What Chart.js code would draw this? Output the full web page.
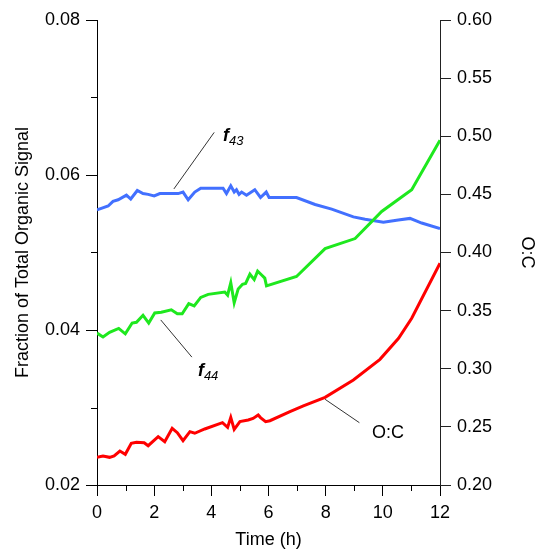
<!DOCTYPE html>
<html lang="en">
<head>
    <meta charset="UTF-8">
    <title>f43 / f44 / O:C</title>
    <style>
        body { margin: 0; background: #fff; }
        #wrap { width: 538px; height: 551px; }
    </style>
</head>
<body>
    <div id="wrap">
        <canvas id="myChart" width="538" height="551"></canvas>
    </div>

    <script src="https://cdn.jsdelivr.net/npm/chart.js"></script>
    <script>
        // f43 (left axis)
        const f43Time = [0, 0.15, 0.39, 0.56, 0.74, 1.03, 1.18, 1.41, 1.61, 1.79, 2.0, 2.2, 2.84, 3.01, 3.19, 3.42, 3.63,
            4.41, 4.53, 4.68, 4.8, 4.88, 4.97, 5.06, 5.23, 5.52, 5.72, 5.92, 6.02, 6.98, 7.63, 8.21, 8.97, 9.38,
            10.02, 10.54, 10.95, 11.36, 12];
        const f43 = [0.0555, 0.0557, 0.0560, 0.0566, 0.0568, 0.0574, 0.0569, 0.0580, 0.0576, 0.0575, 0.0573, 0.0576,
            0.0576, 0.0578, 0.0568, 0.0578, 0.0583, 0.0583, 0.0576, 0.0586, 0.0578, 0.0581, 0.0575, 0.0578, 0.0574,
            0.0581, 0.0571, 0.0578, 0.0571, 0.0571, 0.0562, 0.0556, 0.0546, 0.0543, 0.0539, 0.0542, 0.0544, 0.0538,
            0.0531];

        // f44 (left axis)
        const f44Time = [0, 0.21, 0.44, 0.76, 0.99, 1.23, 1.38, 1.61, 1.81, 2.02, 2.25, 2.6, 2.81, 2.98, 3.21, 3.4,
            3.63, 3.89, 4.47, 4.57, 4.68, 4.8, 4.94, 5.09, 5.2, 5.35, 5.5, 5.62, 5.76, 5.87, 5.93, 6.98, 7.98, 9.03,
            9.96, 11.01, 12];
        const f44 = [0.0396, 0.0391, 0.0397, 0.0402, 0.0395, 0.0409, 0.0410, 0.0419, 0.0409, 0.0422, 0.0423, 0.0426,
            0.0421, 0.0421, 0.0434, 0.0431, 0.0442, 0.0446, 0.0449, 0.0445, 0.0461, 0.0435, 0.0453, 0.0459, 0.0460,
            0.0472, 0.0465, 0.0476, 0.0471, 0.0467, 0.0457, 0.0469, 0.0505, 0.0518, 0.0553, 0.0581, 0.0645];

        // O:C (right axis)
        const ocTime = [0, 0.21, 0.44, 0.6, 0.8, 0.99, 1.2, 1.38, 1.65, 1.79, 2.14, 2.37, 2.63, 2.81, 3.01, 3.25, 3.42,
            3.77, 4.39, 4.57, 4.68, 4.8, 5.0, 5.29, 5.46, 5.64, 5.72, 5.9, 6.05, 6.75, 7.22, 7.98, 8.97, 9.9, 10.55,
            11.01, 12];
        const oc = [0.2238, 0.2249, 0.2238, 0.2250, 0.2292, 0.2264, 0.2359, 0.2367, 0.2364, 0.2338, 0.2416, 0.2372,
            0.2488, 0.2450, 0.2381, 0.2459, 0.2445, 0.2482, 0.2536, 0.2496, 0.2582, 0.2479, 0.2545, 0.2559, 0.2573,
            0.2602, 0.2580, 0.2545, 0.2553, 0.2631, 0.2680, 0.2754, 0.2903, 0.3081, 0.3262, 0.3434, 0.3907];

        // minor tick positions
        const xMinorTicks = [1, 3, 5, 7, 9, 11];
        const yMinorTicks = [0.03, 0.05, 0.07];

        // series labels with leader lines, in data units
        const callouts = [
            { axis: 'y', from: [2.69, 0.0582], to: [4.10, 0.0655], at: [4.41, 0.0644], main: 'f', sub: '43' },
            { axis: 'y', from: [2.23, 0.0413], to: [3.32, 0.0365], at: [3.53, 0.0341], main: 'f', sub: '44' },
            { axis: 'y1', from: [7.98, 0.2737], to: [9.18, 0.2536], at: [9.62, 0.2447], main: 'O:C', sub: '' }
        ];

        const FONT = '"Liberation Sans", Arial, sans-serif';
        const pts = (xs, ys) => xs.map((x, i) => ({ x: x, y: ys[i] }));

        const minorTicks = {
            id: 'minorTicks',
            afterDraw(chart) {
                const c = chart.ctx;
                const xs = chart.scales.x, ys = chart.scales.y;
                const area = chart.chartArea;
                c.save();
                c.strokeStyle = '#000';
                c.lineWidth = 1;
                c.beginPath();
                xMinorTicks.forEach(v => {
                    const px = Math.round(xs.getPixelForValue(v)) + 0.5;
                    c.moveTo(px, area.bottom);
                    c.lineTo(px, area.bottom + 6);
                });
                yMinorTicks.forEach(v => {
                    const py = Math.round(ys.getPixelForValue(v)) + 0.5;
                    c.moveTo(area.left - 6, py);
                    c.lineTo(area.left, py);
                });
                c.stroke();
                c.restore();
            }
        };

        const labelsPlugin = {
            id: 'callouts',
            afterDatasetsDraw(chart) {
                const c = chart.ctx;
                const xs = chart.scales.x;
                c.save();
                callouts.forEach(a => {
                    const ys = chart.scales[a.axis];
                    c.strokeStyle = '#333';
                    c.lineWidth = 1;
                    c.beginPath();
                    c.moveTo(xs.getPixelForValue(a.from[0]), ys.getPixelForValue(a.from[1]));
                    c.lineTo(xs.getPixelForValue(a.to[0]), ys.getPixelForValue(a.to[1]));
                    c.stroke();

                    const px = xs.getPixelForValue(a.at[0]);
                    const py = ys.getPixelForValue(a.at[1]);
                    c.fillStyle = '#000';
                    if (a.sub) {
                        c.textBaseline = 'alphabetic';
                        c.font = 'italic bold 18px ' + FONT;
                        c.fillText(a.main, px, py);
                        const w = c.measureText(a.main).width;
                        c.font = 'italic 13px ' + FONT;
                        c.fillText(a.sub, px + w, py + 4);
                    } else {
                        c.textBaseline = 'middle';
                        c.font = '18px ' + FONT;
                        c.fillText(a.main, px, py);
                    }
                });
                c.restore();
            }
        };

        const tickFont = { family: FONT, size: 18 };

        const ctx = document.getElementById('myChart');
        const chart = new Chart(ctx, {
            type: 'line',
            data: {
                datasets: [
                    { label: 'f44', data: pts(f44Time, f44), yAxisID: 'y', borderColor: '#1ee81e' },
                    { label: 'f43', data: pts(f43Time, f43), yAxisID: 'y', borderColor: '#4270ff' },
                    { label: 'O:C', data: pts(ocTime, oc), yAxisID: 'y1', borderColor: '#ff0000' }
                ]
            },
            plugins: [minorTicks, labelsPlugin],
            options: {
                responsive: false,
                animation: false,
                devicePixelRatio: 1,
                layout: { padding: { top: 20, left: 0, right: 0, bottom: 0 } },
                elements: {
                    line: { borderWidth: 3, tension: 0, fill: false },
                    point: { radius: 0 }
                },
                plugins: {
                    legend: { display: false },
                    tooltip: { enabled: false }
                },
                scales: {
                    x: {
                        type: 'linear',
                        min: 0,
                        max: 12,
                        afterFit(s) { s.height = 66; },
                        border: { display: true, color: '#000' },
                        grid: { drawOnChartArea: false, drawTicks: true, tickLength: 11, color: '#000' },
                        ticks: { stepSize: 2, color: '#000', font: tickFont, padding: 6, maxRotation: 0 },
                        title: { display: true, text: 'Time (h)', color: '#000', font: tickFont, padding: { top: 0, bottom: 0 } }
                    },
                    y: {
                        position: 'left',
                        min: 0.02,
                        max: 0.08,
                        afterFit(s) { s.width = 97; },
                        border: { display: true, color: '#000' },
                        grid: { drawOnChartArea: false, drawTicks: true, tickLength: 11, color: '#000' },
                        ticks: { stepSize: 0.02, color: '#000', font: tickFont, padding: 6,
                            callback: v => v.toFixed(2) },
                        title: { display: true, text: 'Fraction of Total Organic Signal', color: '#000', font: tickFont,
                            padding: { top: 12, bottom: 0 } }
                    },
                    y1: {
                        position: 'right',
                        min: 0.20,
                        max: 0.60,
                        afterFit(s) { s.width = 98; },
                        border: { display: true, color: '#222' },
                        grid: { drawOnChartArea: false, drawTicks: true, tickLength: 11, color: '#222' },
                        ticks: { stepSize: 0.05, color: '#000', font: tickFont, padding: 6,
                            callback: v => v.toFixed(2) },
                        title: { display: true, text: 'O:C', color: '#000', font: tickFont,
                            padding: { top: 0, bottom: 0 } }
                    }
                }
            }
        });
    </script>
</body>
</html>
